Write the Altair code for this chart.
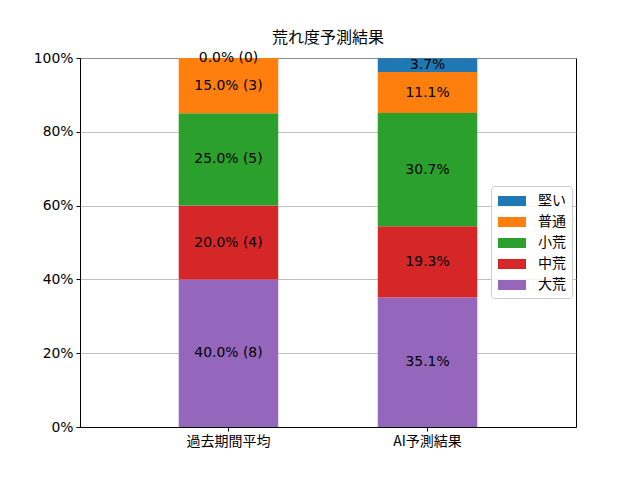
import altair as alt
import pandas as pd

categories = ["過去期間平均", "AI予測結果"]
levels = ["大荒", "中荒", "小荒", "普通", "堅い"]  # bottom -> top
past_pct = [40.0, 20.0, 25.0, 15.0, 0.0]
past_cnt = [8, 4, 5, 3, 0]
ai_pct = [35.1, 19.3, 30.7, 11.1, 3.7]

legend_order = ["堅い", "普通", "小荒", "中荒", "大荒"]
colors = ["#1f77b4", "#ff7f0e", "#2ca02c", "#d62728", "#9467bd"]

rows = []
for i, lv in enumerate(levels):
    rows.append({"cat": categories[0], "level": lv, "ord": i,
                 "v": past_pct[i] / 100.0,
                 "label": f"{past_pct[i]:.1f}% ({past_cnt[i]})"})
for i, lv in enumerate(levels):
    rows.append({"cat": categories[1], "level": lv, "ord": i,
                 "v": ai_pct[i] / 100.0,
                 "label": f"{ai_pct[i]:.1f}%"})
df = pd.DataFrame(rows)

FONT = "Noto Sans CJK JP"
NUMFONT = "DejaVu Sans"

base = alt.Chart(df).transform_stack(
    stack="v", groupby=["cat"], as_=["y0", "y1"], sort=[alt.SortField("ord", order="ascending")]
).transform_calculate(mid="(datum.y0 + datum.y1) / 2")

xenc = alt.X("cat:N", sort=categories, title=None,
             scale=alt.Scale(paddingInner=0.5, paddingOuter=0.496),
             axis=alt.Axis(labelAngle=0, grid=False, labelFont=FONT, labelFontSize=14))

bars = base.mark_bar().encode(
    x=xenc,
    y=alt.Y("y0:Q", scale=alt.Scale(domain=[0, 1], nice=False), title=None,
            axis=alt.Axis(format=".0%", values=[0, 0.2, 0.4, 0.6, 0.8, 1.0], grid=True,
                          labelFont=NUMFONT, labelFontSize=13.9)),
    y2="y1:Q",
    color=alt.Color("level:N",
                    scale=alt.Scale(domain=legend_order, range=colors),
                    legend=alt.Legend(title=None, orient="none", legendX=411, legendY=128,
                                      symbolType="M-1.75,-0.625 H1.75 V0.625 H-1.75 Z",
                                      symbolSize=256, symbolOffset=6,
                                      labelOffset=17, rowPadding=5)),
)

texts = base.mark_text(fontSize=13.9, font=NUMFONT, color="black", baseline="middle").encode(
    x=xenc,
    y=alt.Y("mid:Q"),
    text="label:N",
)

chart = alt.layer(bars, texts).properties(
    width=496, height=369,
    title=alt.TitleParams("荒れ度予測結果", fontSize=16, font=FONT, fontWeight="normal",
                          color="black", offset=5),
    autosize=alt.AutoSizeParams(type="none"),
    padding={"left": 72, "top": 50, "right": 56, "bottom": 45},
).configure_view(
    stroke="black", strokeWidth=1
).configure_axis(
    labelColor="black",
    domainColor="black", domainWidth=1, tickColor="black", tickSize=4, tickWidth=1,
    gridColor="#b0b0b0", gridWidth=0.8, labelPadding=3,
).configure_legend(
    labelFont=FONT, labelFontSize=14, labelColor="black",
    strokeColor="#cccccc", fillColor="rgba(255,255,255,0.8)", cornerRadius=3, padding=6,
)

chart.save("out.html", embed_options={"renderer": "svg", "actions": False})
